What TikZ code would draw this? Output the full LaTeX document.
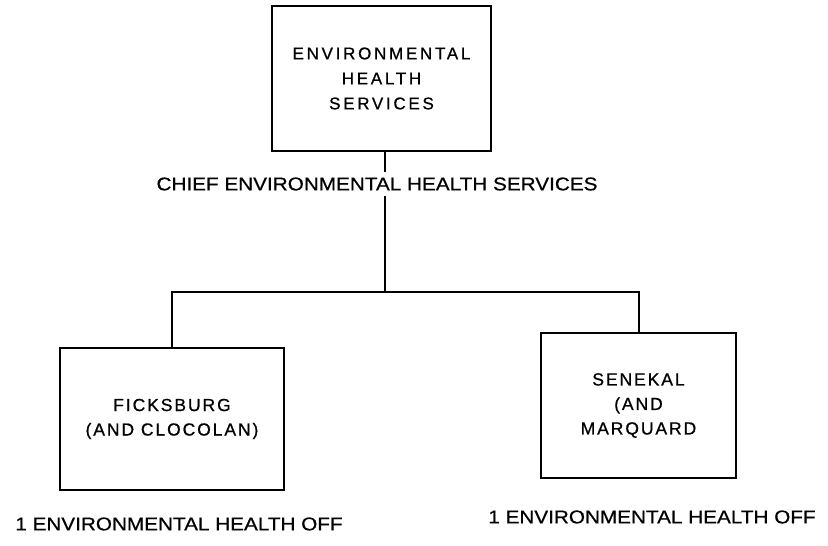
\documentclass[tikz,border=0pt]{standalone}
\usepackage{fontspec}
\setmainfont{Liberation Sans}
\newfontfamily\lblfont{Liberation Sans}[FakeStretch=1.12,FakeBold=0.6]
\newfontfamily\boxfont{Liberation Sans}[LetterSpace=16,FakeBold=0.8]
\newfontfamily\boxfontb{Liberation Sans}[LetterSpace=11,FakeBold=0.8]
\begin{document}
\begin{tikzpicture}[x=1pt,y=-1pt,
  orgbox/.style={draw, line width=2pt, rectangle, align=center, inner sep=0pt},
  toptext/.style={font=\boxfont\fontsize{17}{25}\selectfont},
  subtext/.style={font=\boxfontb\fontsize{17.5}{24.5}\selectfont},
  lbl/.style={font=\lblfont\fontsize{18.5}{22}\selectfont, inner sep=0pt},
  conn/.style={line width=2pt}]
\useasboundingbox (0,0) rectangle (828,546);
\fill[white] (0,0) rectangle (828,546);

\node[orgbox, toptext, minimum width=219pt, minimum height=145pt] (top) at (381.5,78.5)
  {ENVIRONMENTAL\\HEALTH\\SERVICES};
\node[orgbox, subtext, minimum width=224pt, minimum height=142pt] (left) at (172,419)
  {FICKSBURG\\(AND CLOCOLAN)};
\node[orgbox, subtext, minimum width=195pt, minimum height=145pt] (right) at (638.5,405.5)
  {SENEKAL\\(AND\\MARQUARD};

\coordinate (j) at (385,292);
\draw[conn] (j |- top.south) -- (j);
\draw[conn] (left.north) -- (left.north |- j) -- (right.north |- j) -- (right.north);

\node[lbl, fill=white, inner ysep=5pt] (chief) at (377,184) {CHIEF ENVIRONMENTAL HEALTH SERVICES};
\node[lbl] (offl) at (179,524) {1 ENVIRONMENTAL HEALTH OFF};
\node[lbl] (offr) at (652,517) {1 ENVIRONMENTAL HEALTH OFF};
\end{tikzpicture}
\end{document}
